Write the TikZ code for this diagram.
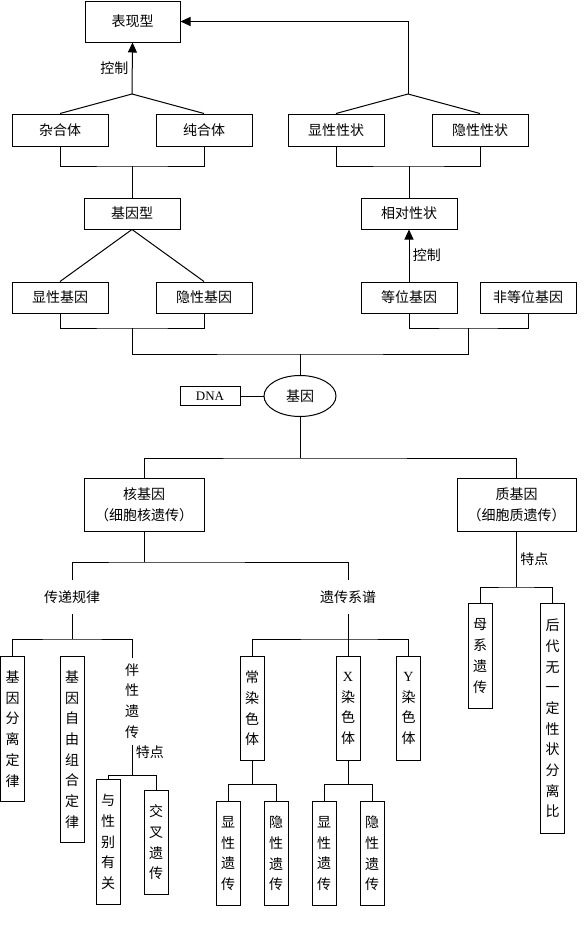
\documentclass[tikz,border=0pt]{standalone}
\usepackage{fontspec}
\newfontfamily\cjk{Noto Sans CJK SC}
\newfontfamily\latinrm{Liberation Serif}
\usetikzlibrary{arrows.meta,shapes.geometric}

\tikzset{
  hbox/.style={draw, inner sep=0pt, minimum width=96pt, minimum height=32pt},
  vbox/.style={draw, inner sep=0pt, minimum width=24pt, align=center, anchor=north},
  vtext/.style={inner sep=0pt, minimum width=24pt, align=center},
  tag/.style={inner sep=0pt, minimum height=33pt},
  ctrl/.style={-{Triangle[width=9pt,length=10pt]}},
}

\begin{document}
\begin{tikzpicture}[x=1pt, y=-1pt, line width=1pt,
  every node/.style={font=\cjk\fontsize{14pt}{20.7pt}\selectfont}]
        \useasboundingbox (0,0) rectangle (588,929);
        % Phénotype et ses deux branches
        \node[hbox, minimum width=95pt, minimum height=41pt] (pheno) at (132.5,21.5) {表现型};
        \node[hbox] (zahe) at (60,130) {杂合体};
        \node[hbox] (chunhe) at (204,130) {纯合体};
        \node[hbox] (xianxz) at (336,130) {显性性状};
        \node[hbox] (yinxz) at (480,130) {隐性性状};
        \coordinate (t1) at (132,94);
        \coordinate (t2) at (408,94);
        \draw (zahe.north) -- (t1) -- (chunhe.north);
        \draw[ctrl] (t1) -- (pheno.south) node[midway, left] {控制};
        \draw (xianxz.north) -- (t2) -- (yinxz.north);
        \draw[ctrl] (t2) |- (pheno.east);
        % Génotype et caractères relatifs
        \node[hbox, minimum height=31pt] (geno) at (132,213.5) {基因型};
        \node[hbox, minimum height=31pt] (xdxz) at (409,213.5) {相对性状};
        \coordinate (j1) at (132,166);
        \coordinate (j2) at (409,166);
        \draw (zahe.south) |- (j1) -| (chunhe.south);
        \draw (j1) -- (geno.north);
        \draw (xianxz.south) |- (j2) -| (yinxz.south);
        \draw (j2) -- (xdxz.north);
        % Gènes
        \node[hbox, minimum height=31pt] (xianjy) at (60,297.5) {显性基因};
        \node[hbox, minimum height=31pt] (yinjy) at (204,297.5) {隐性基因};
        \node[hbox, minimum height=31pt] (dengwei) at (409,297.5) {等位基因};
        \node[hbox, minimum height=31pt] (fdw) at (528,297.5) {非等位基因};
        \draw (xianjy.north) -- (geno.south) -- (yinjy.north);
        \draw[ctrl] (dengwei.north) -- (xdxz.south) node[midway, right] {控制};
        \coordinate (j3) at (132,328);
        \coordinate (j4) at (468,328);
        \coordinate (j5) at (300,354);
        \draw (xianjy.south) |- (j3) -| (yinjy.south);
        \draw (dengwei.south) |- (j4) -| (fdw.south);
        \draw (j3) |- (j5) -| (j4);
        % Le gène
        \node[draw, ellipse, inner sep=0pt, minimum width=72pt, minimum height=41pt] (gene) at (300,396) {基因};
        \node[draw, inner sep=0pt, minimum width=60pt, minimum height=19pt,
              font=\latinrm\fontsize{13pt}{15pt}\selectfont] (dna) at (210,396) {DNA};
        \draw (j5) -- (gene.north);
        \draw (dna) -- (gene);
        \node[hbox, minimum width=120pt, minimum height=53pt, align=center] (he) at (144,504.5) {核基因\\（细胞核遗传）};
        \node[hbox, minimum width=119pt, minimum height=53pt, align=center] (zhi) at (516.5,504.5) {质基因\\（细胞质遗传）};
        \coordinate (j6) at (300,458);
        \draw (gene.south) -- (j6);
        \draw (he.north) |- (j6) -| (zhi.north);
        % Gènes nucléaires
        \node[tag] (cd) at (72,597) {传递规律};
        \node[tag] (yp) at (348,597) {遗传系谱};
        \coordinate (j7) at (144,562);
        \draw (he.south) -- (j7);
        \draw (cd.north) |- (j7) -| (yp.north);
        \node[vbox, minimum height=145pt] (fl) at (12.5,656) {基\\因\\分\\离\\定\\律};
        \node[vbox, minimum height=186pt] (zy) at (72,656) {基\\因\\自\\由\\组\\合\\定\\律};
        \node[vtext, minimum height=86pt] (bx) at (132,701) {伴\\性\\遗\\传};
        \coordinate (j8) at (72,639);
        \draw (cd.south) -- (j8);
        \draw (fl.north) |- (j8) -| (bx.north);
        \node[vbox, minimum height=125pt] (ybyg) at (108,779) {与\\性\\别\\有\\关};
        \node[vbox, minimum height=104pt] (jc) at (156,790) {交\\叉\\遗\\传};
        \coordinate (j9) at (132,775);
        \draw (bx.south) -- (j9) node[near start, right] {特点};
        \draw (ybyg.north) |- (j9) -| (jc.north);
        % Pedigree
        \node[vbox, minimum height=104pt] (chang) at (252,656) {常\\染\\色\\体};
        \node[vbox, minimum height=104pt] (xr) at (348,656) {{\latinrm X}\\染\\色\\体};
        \node[vbox, minimum height=104pt] (yr) at (408.5,656) {{\latinrm Y}\\染\\色\\体};
        \coordinate (j10) at (348,639);
        \draw (yp.south) -- (xr.north);
        \draw (chang.north) |- (j10) -| (yr.north);
        \node[vbox, minimum height=104pt] (cx) at (228,801) {显\\性\\遗\\传};
        \node[vbox, minimum height=104pt] (cy) at (276,801) {隐\\性\\遗\\传};
        \node[vbox, minimum height=104pt] (xx) at (324,801) {显\\性\\遗\\传};
        \node[vbox, minimum height=104pt] (xy) at (372,801) {隐\\性\\遗\\传};
        \coordinate (j11) at (252,784);
        \coordinate (j12) at (348,784);
        \draw (chang.south) -- (j11);
        \draw (cx.north) |- (j11) -| (cy.north);
        \draw (xr.south) -- (j12);
        \draw (xx.north) |- (j12) -| (xy.north);
        % Gènes cytoplasmiques
        \node[vbox, minimum height=105pt] (mx) at (480,603) {母\\系\\遗\\传};
        \node[vbox, minimum height=230pt] (hd) at (552.5,603) {后\\代\\无\\一\\定\\性\\状\\分\\离\\比};
        \coordinate (j13) at (516.5,587);
        \draw (zhi.south) -- (j13) node[midway, right] {特点};
        \draw (mx.north) |- (j13) -| (hd.north);
\end{tikzpicture}
\end{document}
